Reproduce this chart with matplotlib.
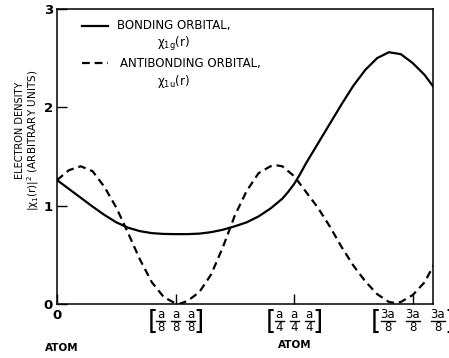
import matplotlib
matplotlib.use("Agg")
import matplotlib.pyplot as plt

plt.rcParams['font.family'] = ['DejaVu Sans']
plt.rcParams['mathtext.fontset'] = 'dejavusans'
plt.rcParams['mathtext.default'] = 'regular'

# distance along the bond, in units of a/8
bond_x = [0, 0.1, 0.2, 0.3, 0.4, 0.5, 0.6, 0.7, 0.8, 0.9, 1.0, 1.1, 1.2, 1.3, 1.4, 1.5,
          1.6, 1.7, 1.8, 1.9, 1.95, 2.0, 2.05, 2.1, 2.2, 2.3, 2.4, 2.5, 2.6, 2.7, 2.8, 2.9,
          3.0, 3.1, 3.18]
bond_y = [1.26, 1.17, 1.08, 0.99, 0.905, 0.83, 0.775, 0.74, 0.72, 0.712, 0.71, 0.71, 0.715,
          0.73, 0.755, 0.79, 0.83, 0.89, 0.97, 1.07, 1.14, 1.22, 1.32, 1.43, 1.63, 1.83, 2.03,
          2.22, 2.38, 2.50, 2.56, 2.54, 2.45, 2.33, 2.20]

anti_x = [0, 0.1, 0.2, 0.3, 0.4, 0.5, 0.6, 0.7, 0.8, 0.9, 1.0, 1.03, 1.1, 1.2, 1.3, 1.4, 1.5,
          1.6, 1.7, 1.8, 1.85, 1.9, 2.0, 2.1, 2.2, 2.3, 2.4, 2.5, 2.6, 2.7, 2.8, 2.85, 2.9, 3.0,
          3.1, 3.18]
anti_y = [1.26, 1.36, 1.40, 1.35, 1.19, 0.98, 0.72, 0.45, 0.22, 0.07, 0.005, 0.0, 0.03, 0.12,
          0.30, 0.58, 0.90, 1.15, 1.33, 1.40, 1.41, 1.40, 1.30, 1.14, 0.98, 0.79, 0.58, 0.39,
          0.23, 0.10, 0.02, 0.01, 0.02, 0.09, 0.22, 0.40]

x_ticks = [0, 1, 2, 3]
frac_ticks = [1, 2, 3]
frac_num = ['a', 'a', '3a']
frac_den = ['8', '4', '8']
y_ticks = [0, 1, 2, 3]

fig = plt.figure(figsize=(4.49, 3.58), dpi=100)
ax = fig.add_axes([0.127, 0.151, 0.837, 0.824])

ax.plot(bond_x, bond_y, color='black', lw=1.6)
ax.plot(anti_x, anti_y, color='black', lw=1.6, dashes=(3.5, 2.2))

ax.set_xlim(0, 3.17)
ax.set_ylim(0, 3)
ax.set_xticks(x_ticks)
ax.set_xticklabels(['0', '', '', ''], fontsize=9.5, fontweight='bold')
ax.set_yticks(y_ticks)
ax.set_yticklabels([str(v) for v in y_ticks], fontsize=9.5, fontweight='bold')
ax.tick_params(direction='in', length=7, width=1, pad=4)
ax.tick_params(axis='y', pad=3)
for s in ax.spines.values():
    s.set_linewidth(1.1)

# bracketed fraction labels under the ticks  [a/8 a/8 a/8] ...
px_x = 3.17 / (0.837 * 449)     # data units per pixel along x
px_y = 1 / (0.824 * 358)        # axes fraction per pixel along y
xt = ax.get_xaxis_transform()
for t, num, den in zip(frac_ticks, frac_num, frac_den):
    wide = len(num) > 1
    step = 25 if wide else 15
    half = 7 if wide else 4.5
    for k in (-1, 0, 1):
        cx = t + k * step * px_x
        ax.text(cx, -11 * px_y, num, transform=xt, ha='center', va='center',
                fontsize=8.5, clip_on=False)
        ax.text(cx, -24 * px_y, den, transform=xt, ha='center', va='center',
                fontsize=8.5, clip_on=False)
        ax.plot([cx - half * px_x, cx + half * px_x], [-17 * px_y, -17 * px_y],
                transform=xt, color='black', lw=1, clip_on=False)
    edge = 37 if wide else 23
    ax.text(t - edge * px_x, -18 * px_y, '[', transform=xt, ha='center', va='center',
            fontsize=19, clip_on=False)
    ax.text(t + edge * px_x, -18 * px_y, ']', transform=xt, ha='center', va='center',
            fontsize=19, clip_on=False)

# legend drawn by hand, like the original
ax.plot([0.21, 0.43], [2.83, 2.83], color='black', lw=1.6, clip_on=False)
ax.text(0.51, 2.83, 'BONDING ORBITAL,', fontsize=8.5, va='center')
ax.text(0.84, 2.64, r'$\chi_{1g}(r)$', fontsize=8.5, va='center')
ax.plot([0.21, 0.43], [2.45, 2.45], color='black', lw=1.6, dashes=(3.5, 2.2), clip_on=False)
ax.text(0.53, 2.45, 'ANTIBONDING ORBITAL,', fontsize=8.5, va='center')
ax.text(0.84, 2.26, r'$\chi_{1u}(r)$', fontsize=8.5, va='center')

# y label, two lines
fig.text(20 / 449, 1 - 130 / 358, 'ELECTRON DENSITY', rotation=90, fontsize=7,
         ha='center', va='center')
fig.text(33 / 449, 1 - 140 / 358, r'$|\chi_1(r)|^2$ (ARBITRARY UNITS)', rotation=90,
         fontsize=7.5, ha='center', va='center')

fig.text(62 / 449, 1 - 348 / 358, 'ATOM', fontsize=7.5, fontweight='bold', ha='center', va='center')
fig.text(295 / 449, 1 - 345 / 358, 'ATOM', fontsize=7.5, fontweight='bold', ha='center', va='center')

fig.savefig('out.png', dpi=100)
